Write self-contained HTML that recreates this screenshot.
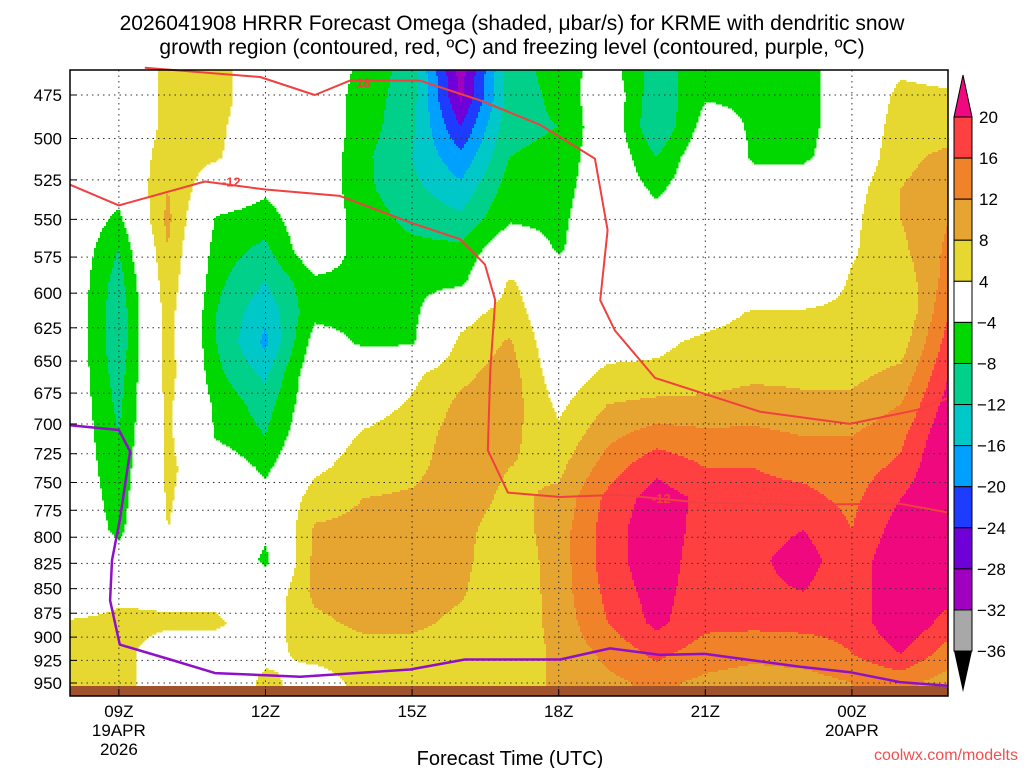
<!DOCTYPE html>
<html><head><meta charset="utf-8"><style>
body{margin:0;background:#fff;width:1024px;height:768px;overflow:hidden;font-family:"Liberation Sans",sans-serif}
svg text{font-family:"Liberation Sans",sans-serif;fill:#000}
</style></head><body>
<svg id="c" width="1024" height="768" xmlns="http://www.w3.org/2000/svg">
<text x="512" y="30" font-size="21" text-anchor="middle">2026041908 HRRR Forecast Omega (shaded, μbar/s) for KRME with dendritic snow</text>
<text x="512" y="54" font-size="21" text-anchor="middle">growth region (contoured, red, ºC) and freezing level (contoured, purple, ºC)</text>
<g id="field"></g>
<rect x="70" y="686" width="878" height="10" fill="#a0522d"/>
<g id="grid"></g>
<g id="lines"></g>
<rect x="70" y="70" width="878" height="626" fill="none" stroke="#000" stroke-width="1.5"/>
<g id="axes"></g>
<g id="cbar"></g>
<text x="510" y="765" font-size="20" text-anchor="middle">Forecast Time (UTC)</text>
<text x="1018" y="760" font-size="16" text-anchor="end" style="fill:#f05050">coolwx.com/modelts</text>
</svg>
<script>
const hours=[8,9,10,11,12,13,14,15,16,17,18,19,20,21,22,23,24,25,26];
const pressures=[458,475,493,511,530,550,570,592,614,636,660,684,710,737,764,793,822,853,885,918,950,986];
// omega values: one array per hour column, top to bottom following pressures
const omega=[
[0,0,0,0,0,0,0,0,0,0,0,0,0,0,0,0,0,0,4.5,4.5,4.5,4.5],
[0,0,0,0,-2,-5,-8,-10,-11,-11,-10,-9,-8,-7,-6,-5,-2,3,5,5,5,5],
[5,5,5,6,8,9,8,7,6,6,6,5,5,5,4.5,4,3,3,4.5,2,2,2],
[6,6,5,4.5,0,-4.5,-6,-7,-8,-8,-7,-5,-4.5,0,0,0,2,3,4.5,2,0,0],
[0,0,0,0,-3,-6,-9,-12,-15,-17,-13,-10,-8,-5,-2,-3,-5,0,2,3,5,5],
[0,0,0,0,0,0,0,-5,-5,-2,0,0,1,3,6,8.5,9,9,7,5,2,2],
[-5,-6,-6,-7,-7,-6,-6,-5,-5,-4.5,0,2,4.5,6,8,9,10,10,9,6,5,5],
[-10,-10,-11,-12,-11,-9,-7,-5,-5,-4.5,3,4.5,6,7,8.5,9,9.5,10,9,6,5,5],
[-30,-29,-24,-19,-15,-11,-7,-5,2,5,7,9,10,10,10,9,9,8.5,7,5,5,5],
[-10,-10,-9,-8,-6,-4.5,0,4.5,6,8.5,10,10,9,8,7,6,5,4.5,5,5,5,5],
[-6,-7,-8,-7,-6,-5,-4.5,0,0,0,1,3,5,7,9,10,10,10,9.5,9,9,9],
[-2,0,0,0,0,0,0,0,0,2,5,8,11,14,17,18,18,17,16,13,11,11],
[-10,-11,-12,-8,-5,-2,0,0,0,3,5,9,14,19,22,23,23,22,21,17,13,13],
[-5,-4.5,-2,0,0,0,0,0,2,5,6,9,13,16,19,18,17,17,17,14,11,11],
[-4.5,-4.5,-4.5,-4.5,-2,0,0,0,4.5,6,7,10,13,16,17,18,19,19,17,13,10,10],
[-6,-6,-6,-5,0,0,0,0,4.5,6,7,9,12,15,17,20,22,20,17,14,10,10],
[0,0,0,0,2,3,3.5,4.5,5,6,7,9,12,14,15,16,17,17,17,16,12,12],
[3,5,6,7,8,8,7,5,4,6,9,12,15,17,20,22,24,24,24,20,13,13],
[2,4.5,6,9,10,12,13,14,16,18,20,22,24,25,25,24,24,22,18,14,10,10]];
// dendritic growth contours, hour & pressure
const dgzLowerH=[8,9,10.76,12,13.52,14.96,15.98,16.49,16.7,16.6,16.55,16.96,18.03,19.25,20.9,22.94,24.98,25.97];
const dgzLowerP=[528,541,526,531,535,552,563,580,605,657,722,759,763,761,768,770,769,777];
const dgzUpperH=[9.53,11.89,13.01,13.73,15.16,16.39,17.62,18.74,19.0,18.85,19.15,19.97,22.12,23.96,25.39,25.97];
const dgzUpperP=[460,465,475,467,467,478,492,512,557,605,627,663,690,700,688,679];
// freezing level
const frzH=[8,9,9.23,9.02,8.86,8.82,9.02,10.05,10.97,12.71,14.96,16.08,18.03,19.05,20.07,20.99,22.94,23.96,24.98,25.97];
const frzP=[701,705,723,784,822,862,908,924,939,943,935,924,924,912,919,918,932,938,949,953];
const yTicks=[475,500,525,550,575,600,625,650,675,700,725,750,775,800,825,850,875,900,925,950];
const xTickH=[9,12,15,18,21,24];
const xTickLab=[["09Z","19APR","2026"],["12Z"],["15Z"],["18Z"],["21Z"],["00Z","20APR"]];
const levels=[-36,-32,-28,-24,-20,-16,-12,-8,-4,4,8,12,16,20];
const colors=["#000","#a8a8a8","#a000c0","#7000d8","#1e3cff","#00a0ff","#00c8c8","#00d08a","#00d800","#ffffff","#e6d830","#e6a530","#f0822a","#ff4040","#f0087f"];

const NS="http://www.w3.org/2000/svg";
const X0=70,X1=948,Y0=70,Y1=696;
const xS=h=>70+(h-8)*48.87;
const yS=p=>95+Math.log(p/475)*848.3;
const hInv=x=>8+(x-70)/48.87;
const pInv=y=>475*Math.exp((y-95)/848.3);
function mk(t,a,par){const e=document.createElementNS(NS,t);for(const k in a)e.setAttribute(k,a[k]);par.appendChild(e);return e;}
function val(h,p){
  let i=Math.max(0,Math.min(hours.length-2,Math.floor(h-hours[0])));
  let fi=Math.max(0,Math.min(1,(h-hours[i])/(hours[i+1]-hours[i])));
  let j=0;while(j<pressures.length-2&&p>pressures[j+1])j++;
  let fj=Math.max(0,Math.min(1,(p-pressures[j])/(pressures[j+1]-pressures[j])));
  const a=omega[i][j],b=omega[i+1][j],c=omega[i][j+1],d=omega[i+1][j+1];
  return a*(1-fi)*(1-fj)+b*fi*(1-fj)+c*(1-fi)*fj+d*fi*fj;
}
function band(v){let k=0;while(k<levels.length&&v>=levels[k])k++;return k;}
const field=document.getElementById('field');
const step=2;
for(let y=Y0;y<Y1;y+=step){
  const p=pInv(y+step/2);let start=X0,cur=-1;
  for(let x=X0;x<=X1;x+=step){
    const k=x<X1?band(val(hInv(x+step/2),p)):-2;
    if(k!==cur){
      if(cur>=0&&cur!==9){const r=mk('rect',{x:start,y:y,width:x-start+0.5,height:step+0.5,fill:colors[cur]},field);
        
        }
      start=x;cur=k;
    }
  }
}
const grid=document.getElementById('grid'),axes=document.getElementById('axes');
yTicks.forEach(p=>{
  const l=mk('line',{x1:X0,x2:X1,y1:yS(p),y2:yS(p),stroke:'#333','stroke-width':1,'stroke-dasharray':'1.5,4'},grid);
  
  
  mk('line',{x1:X0,x2:X0+7,y1:yS(p),y2:yS(p),stroke:'#000'},axes);
  const t=mk('text',{x:62,y:yS(p)+6,'font-size':17,'text-anchor':'end'},axes);t.textContent=p;
  
  
});
xTickH.forEach((h,i)=>{
  const l=mk('line',{x1:xS(h),x2:xS(h),y1:Y0,y2:Y1,stroke:'#333','stroke-width':1,'stroke-dasharray':'1.5,4'},grid);
  
  
  mk('line',{x1:xS(h),x2:xS(h),y1:Y1,y2:Y1-7,stroke:'#000'},axes);
  xTickLab[i].forEach((s,j)=>{const t=mk('text',{x:xS(h),y:717+j*19,'font-size':17,'text-anchor':'middle'},axes);t.textContent=s;
    
    });
});
const lines=document.getElementById('lines');
function poly(H,P,col,w,name){
  const pts=H.map((h,i)=>xS(h).toFixed(1)+','+yS(P[i]).toFixed(1)).join(' ');
  const e=mk('polyline',{points:pts,fill:'none',stroke:col,'stroke-width':w,'stroke-linejoin':'round'},lines);
  
  
}
poly(dgzLowerH,dgzLowerP,'#f04040',2,'dgz-minus12-contour');
poly(dgzUpperH,dgzUpperP,'#f04040',2,'dgz-minus18-contour');
poly(frzH,frzP,'#9010c8',2.5,'freezing-level-contour');
function lab(h,p,s){const t=mk('text',{x:xS(h),y:yS(p)+5,'font-size':13,'text-anchor':'middle','font-weight':'bold',style:'fill:#f04040'},lines);t.textContent=s;
  
  }
lab(11.3,526,'-12');lab(14.0,468,'18');lab(20.1,764,'-12');
const cb=document.getElementById('cbar');const cx=954,cw=18,ct=117,cs=41.08;
const tri1=mk('polygon',{points:`${cx},${ct} ${cx+cw},${ct} ${cx+cw/2},75`,fill:colors[14],stroke:'#000'},cb);


for(let k=0;k<13;k++){
  const r=mk('rect',{x:cx,y:ct+k*cs,width:cw,height:cs,fill:colors[13-k],stroke:'#000'},cb);
  
  
}
const tri2=mk('polygon',{points:`${cx},${ct+13*cs} ${cx+cw},${ct+13*cs} ${cx+cw/2},692`,fill:'#000'},cb);


levels.slice().reverse().forEach((v,k)=>{
  const t=mk('text',{x:v<0?977:979,y:ct+k*cs+6,'font-size':17},cb);t.textContent=v<0?'−'+(-v):v;
  
  
});
</script>
</body></html>
